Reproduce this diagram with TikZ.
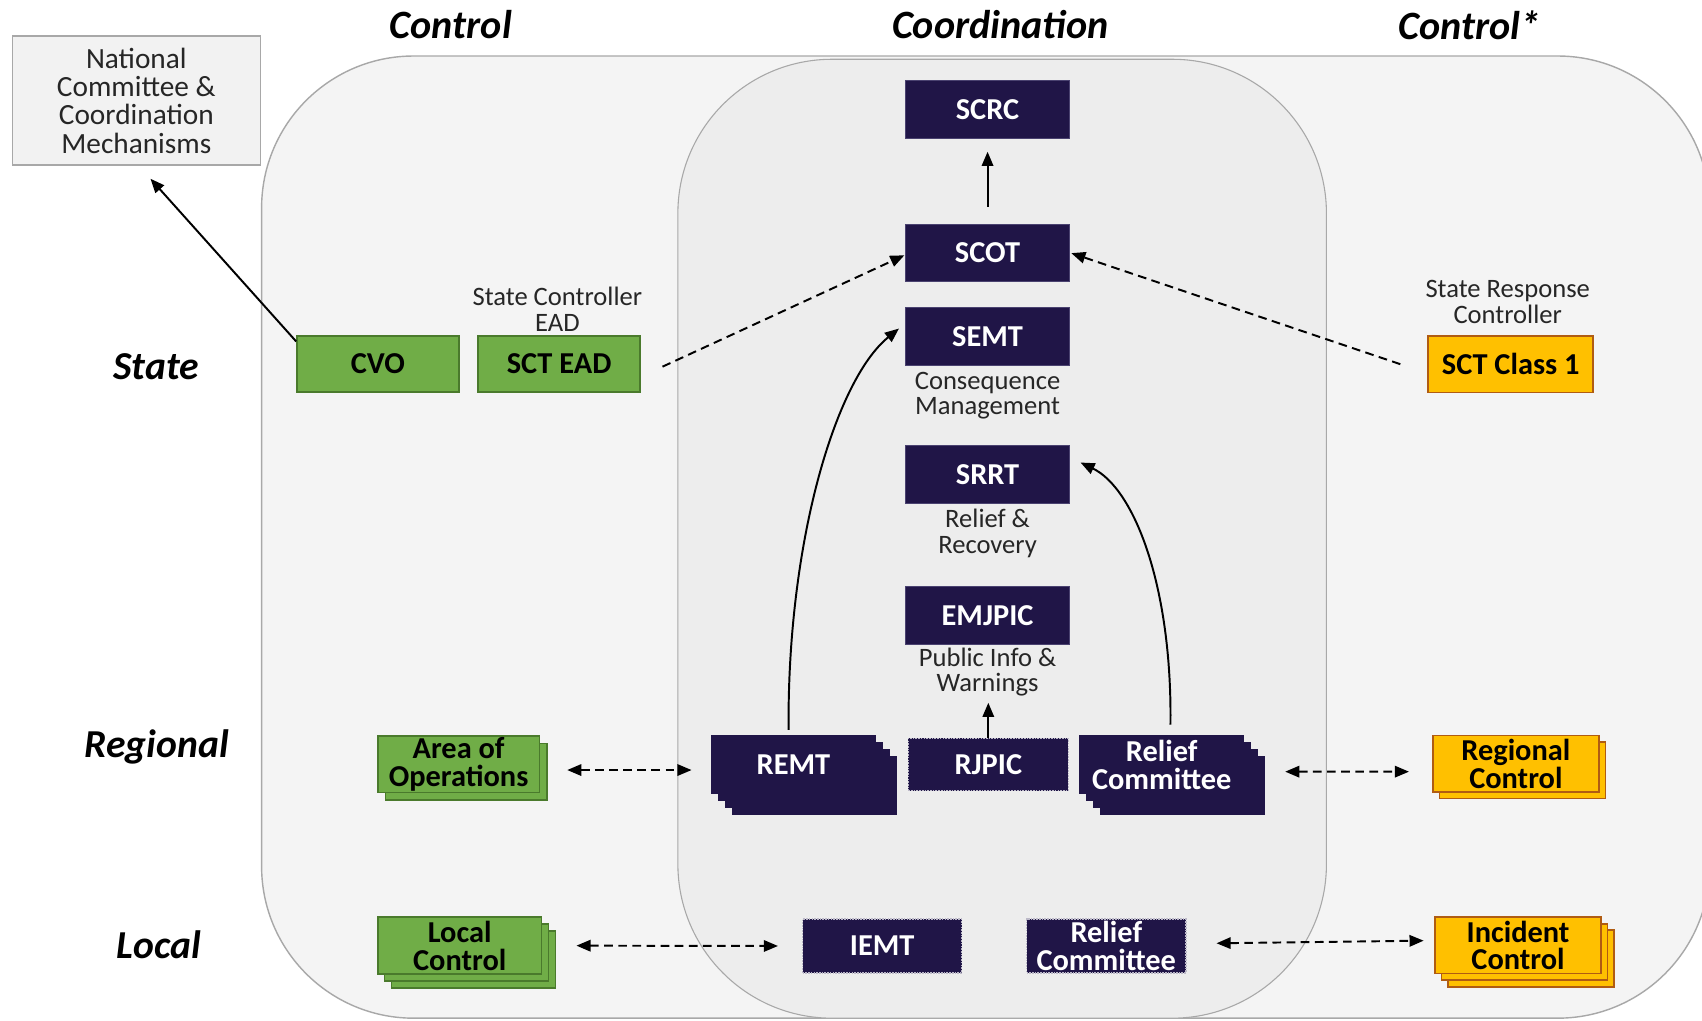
\documentclass[tikz,border=0pt]{standalone}
\usepackage{fontspec}
\setmainfont{Carlito}
\usetikzlibrary{arrows.meta,shadows,calc}
\definecolor{navy}{HTML}{201547}
\definecolor{navyedge}{HTML}{4A4270}
\definecolor{grn}{HTML}{70AD47}
\definecolor{grnd}{HTML}{4A7A2C}
\definecolor{yel}{HTML}{FFC000}
\definecolor{yeld}{HTML}{B05C12}
\definecolor{regfill}{HTML}{F4F4F4}
\definecolor{coordfill}{HTML}{EDEDED}
\definecolor{edgegray}{HTML}{A8A8A8}
\definecolor{natfill}{HTML}{F2F2F2}
\tikzset{
  boxfont/.style={font=\fontsize{28}{25.5}\selectfont\bfseries},
  navybox/.style={boxfont, fill=navy, draw=navyedge, line width=0.8pt, text=white,
    minimum width=150.5pt, minimum height=53pt, inner sep=0pt, align=center},
  dotbox/.style={boxfont, fill=navy, draw=white!70!navy, line width=1.5pt, densely dotted,
    text=white, inner sep=0pt, align=center},
  grnbox/.style={boxfont, fill=grn, draw=grnd, line width=1.5pt, text=black,
    minimum width=149pt, minimum height=52pt, inner sep=0pt, align=center},
  yelbox/.style={boxfont, fill=yel, draw=yeld, line width=1.5pt, text=black,
    minimum width=152pt, minimum height=52pt, inner sep=0pt, align=center},
  grncopy/.style={copy shadow={shadow xshift=#1, shadow yshift=-#1, fill=grn, draw=grnd, line width=1.5pt}},
  yelcopy/.style={copy shadow={shadow xshift=#1, shadow yshift=-#1, fill=yel, draw=yeld, line width=1.5pt}},
  navycopy/.style={copy shadow={shadow xshift=#1, shadow yshift=-#1, fill=navy, draw=navy, line width=0.8pt}},
  multidoc/.style={navybox, draw=navy, minimum width=151pt, minimum height=53.4pt,
    navycopy=18.9pt, navycopy=12.6pt, navycopy=6.3pt},
  note/.style={font=\fontsize{24.5}{23.5}\selectfont, align=center, text=black!85, inner sep=0pt},
  header/.style={font=\fontsize{37}{38}\selectfont\bfseries\itshape, inner sep=0pt},
  rowlabel/.style={font=\fontsize{36.5}{38}\selectfont\bfseries\itshape, inner sep=0pt},
  solidarrow/.style={line width=1.8pt, -{Triangle[length=13pt,width=10.5pt]}},
  dasharrow/.style={line width=1.8pt, dash pattern=on 8pt off 5pt, -{Triangle[length=13pt,width=10.5pt]}},
  dblarrow/.style={line width=1.8pt, dash pattern=on 8pt off 5pt,
    {Triangle[length=13pt,width=10.5pt]}-{Triangle[length=13pt,width=10.5pt]}},
}
\begin{document}
\begin{tikzpicture}[x=1pt,y=-1pt]
\useasboundingbox (0,0) rectangle (1568,940);
\clip (0,0) rectangle (1568,940);
\fill[white] (0,0) rectangle (1568,940);
% regions
\draw[fill=regfill, draw=edgegray, line width=1.3pt, rounded corners=140pt] (241,51.6) rectangle (1575,938);
\draw[fill=coordfill, draw=edgegray, line width=1pt, rounded corners=142pt] (624.5,54.6) rectangle (1222,938);
% headers
\node[header] (hctl) at (415.4,23) {Control};
\node[header] (hcoord) at (921.6,23) {Coordination};
\node[header] (hctl2) at (1354,23) {Control*};
% row labels
\node[rowlabel] (lstate) at (143.9,337.8) {State};
\node[rowlabel] (lreg) at (144.5,688) {Regional};
\node[rowlabel] (lloc) at (146.3,870.6) {Local};
% national
\node[draw=edgegray, fill=natfill, line width=1.3pt, minimum width=228.3pt, minimum height=118.8pt,
  inner sep=0pt, align=center, font=\fontsize{27}{26.1}\selectfont, text=black!85] (natl) at (125.6,92.6)
  {National\\Committee \&\\Coordination\\Mechanisms};
% state row
\node[grnbox] (cvo) at (348.1,335.3) {CVO};
\node[grnbox] (sctead) at (515.1,335.3) {SCT EAD};
\node[note] (sclabel) at (513.5,284.8) {State Controller\\EAD};
\node[navybox] (scrc) at (909.8,100.9) {SCRC};
\node[navybox] (scot) at (909.8,233.2) {SCOT};
\node[navybox] (semt) at (909.8,309.7) {SEMT};
\node[note] (cm) at (909.8,364.3) {Consequence\\Management};
\node[navybox] (srrt) at (909.8,437.1) {SRRT};
\node[note] (rr) at (909.8,491.5) {Relief \&\\Recovery};
\node[navybox] (emjpic) at (909.8,567) {EMJPIC};
\node[note] (piw) at (909.8,619.2) {Public Info \&\\Warnings};
\node[yelbox] (sct1) at (1391.8,335.5) {SCT Class 1};
\node[note] (srclabel) at (1389,278) {State Response\\Controller};
% regional row
\node[grnbox, grncopy=7pt] (aoo) at (422.5,704) {Area of\\Operations};
\node[multidoc] (remt) at (731,704.4) {REMT};
\node[dotbox, minimum width=147.4pt, minimum height=48.2pt] (rjpic) at (910.5,704.3) {RJPIC};
\node[multidoc] (rcreg) at (1070.3,704.4) {Relief\\Committee};
\node[yelbox, minimum width=153pt, yelcopy=6pt] (regc) at (1396.5,703.6) {Regional\\Control};
% local row
\node[grnbox, minimum width=151pt, minimum height=52.3pt, grncopy=12.6pt, grncopy=6.3pt] (locc) at (423.5,871.2) {Local\\Control};
\node[dotbox, minimum width=146.5pt, minimum height=49.2pt] (iemt) at (812.7,871.5) {IEMT};
\node[dotbox, minimum width=146.8pt, minimum height=49.2pt] (rcloc) at (1019.2,871.5) {Relief\\Committee};
\node[yelbox, minimum width=153pt, yelcopy=12pt, yelcopy=6pt] (incc) at (1398.5,871) {Incident\\Control};
% connectors
\draw[solidarrow] ([yshift=-6pt]cvo.north west) -- ([xshift=13pt,yshift=-12pt]natl.south);
\draw[dasharrow] ([xshift=20pt,yshift=-2.5pt]sctead.east) -- ([xshift=-1pt,yshift=-2pt]scot.west);
\draw[dasharrow] ([xshift=-25pt]sct1.west) -- ([xshift=1.5pt]scot.east);
\draw[solidarrow] ([yshift=16pt]scot.north) -- ([yshift=-12pt]scrc.south);
\draw[solidarrow] ([xshift=-4.5pt,yshift=5pt]remt.north) .. controls +(-1.5,-172) and +(-58.6,47.5) .. ([xshift=-6pt,yshift=7pt]semt.west);
\draw[solidarrow] ([xshift=8pt,yshift=9.7pt]rcreg.north) .. controls +(1.6,-128) and +(49.3,23.8) .. ([xshift=10pt,yshift=11pt]srrt.east);
\draw[solidarrow] (rjpic.north) -- ([yshift=32pt]rjpic.north);
\draw[dblarrow] ([xshift=24.8pt,yshift=-5.4pt]aoo.east) -- ([xshift=-18pt,yshift=-5pt]remt.west);
\draw[dblarrow] ([xshift=31.3pt]locc.east) -- ([xshift=-22pt]iemt.west);
\draw[dblarrow] ([xshift=37.8pt,yshift=-6.5pt]rcreg.east) -- ([xshift=-21.2pt,yshift=-7.3pt]regc.west);
\draw[dblarrow] ([xshift=27.4pt,yshift=2.5pt]rcloc.east) -- ([xshift=-9.7pt,yshift=4.4pt]incc.west);
\end{tikzpicture}
\end{document}
